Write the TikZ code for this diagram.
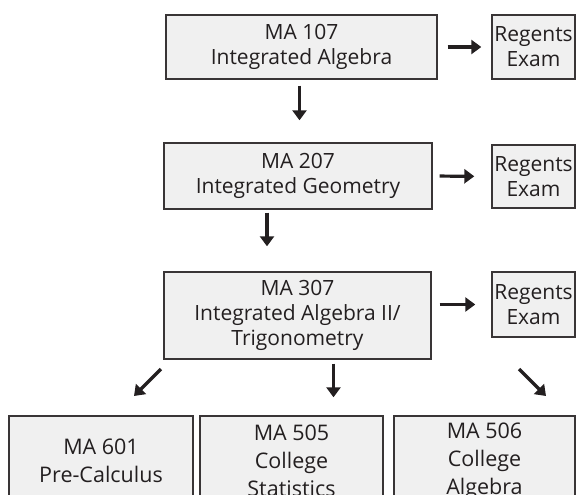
\documentclass[tikz,border=0pt]{standalone}
\usepackage{fontspec}
\setmainfont{Open Sans}
\usetikzlibrary{positioning,arrows.meta,calc}
\definecolor{boxfill}{HTML}{F0F0F0}
\definecolor{ink}{HTML}{231F20}
\tikzstyle{arrow} = [ink,line width=3.2pt,-{Triangle[length=10pt,width=14pt]}]

\begin{document}
\begin{tikzpicture}[x=1pt,y=-1pt,
  course/.style={draw=ink!90,fill=boxfill,line width=1.4pt,align=center,inner sep=0pt,
    text=ink,font=\fontsize{21}{25}\selectfont},
  regents/.style={course,minimum width=83pt,minimum height=64pt},
  elective/.style={course,minimum width=183pt,minimum height=90pt,font=\fontsize{21.5}{28}\selectfont}]

 \useasboundingbox (0,0) rectangle (576,495);

 \node [course,minimum width=271pt,minimum height=64pt] (ma107) at (301.5,47) {MA 107\\Integrated Algebra};
 \node [regents] (reg1) at (533.5,47) {Regents\\Exam};

 \node [course,minimum width=268pt,minimum height=66pt] (ma207) at (298,176) {MA 207\\Integrated Geometry};
 \node [regents,minimum height=63pt] (reg2) at (533.5,176.5) {Regents\\Exam};

 \node [course,minimum width=267pt,minimum height=87pt] (ma307) at (297.5,315.5) {MA 307\\Integrated Algebra II/\\Trigonometry};
 \node [regents,minimum height=65pt] (reg3) at (533.5,304.5) {Regents\\Exam};

 \node [elective,minimum width=184pt] (ma601) at (101,461) {MA 601\\Pre-Calculus};
 \node [elective] (ma505) at (291.5,461) {MA 505\\College\\Statistics};
 \node [elective,minimum width=181pt] (ma506) at (484.5,461) {MA 506\\College\\Algebra};

 % exam arrows
 \draw[arrow, shorten <=10pt, shorten >=10pt] (ma107.east) -- (reg1.west);
 \draw[arrow, shorten <=7pt, shorten >=17pt] (ma207.east) -- (reg2.west);
 \draw[arrow, shorten <=8pt, shorten >=16pt] (ma307.east |- reg3.west) -- (reg3.west);

 % course sequence
 \draw[arrow, shorten <=6pt, shorten >=22pt] ([xshift=-2pt]ma107.south) -- ([xshift=-2pt]ma107.south |- ma207.north);
 \draw[arrow, shorten <=3pt, shorten >=25pt] ([xshift=-31pt]ma207.south) -- ([xshift=-31pt]ma207.south |- ma307.north);
 \draw[arrow, shorten <=4pt, shorten >=18pt] ([xshift=36pt]ma307.south) -- ([xshift=36pt]ma307.south |- ma505.north);

 \coordinate (l1) at (161,369);
 \coordinate (l2) at (134,396);
 \coordinate (r1) at (519,369);
 \coordinate (r2) at (546,396);
 \draw[arrow] (l1) -- (l2);
 \draw[arrow] (r1) -- (r2);
\end{tikzpicture}
\end{document}
